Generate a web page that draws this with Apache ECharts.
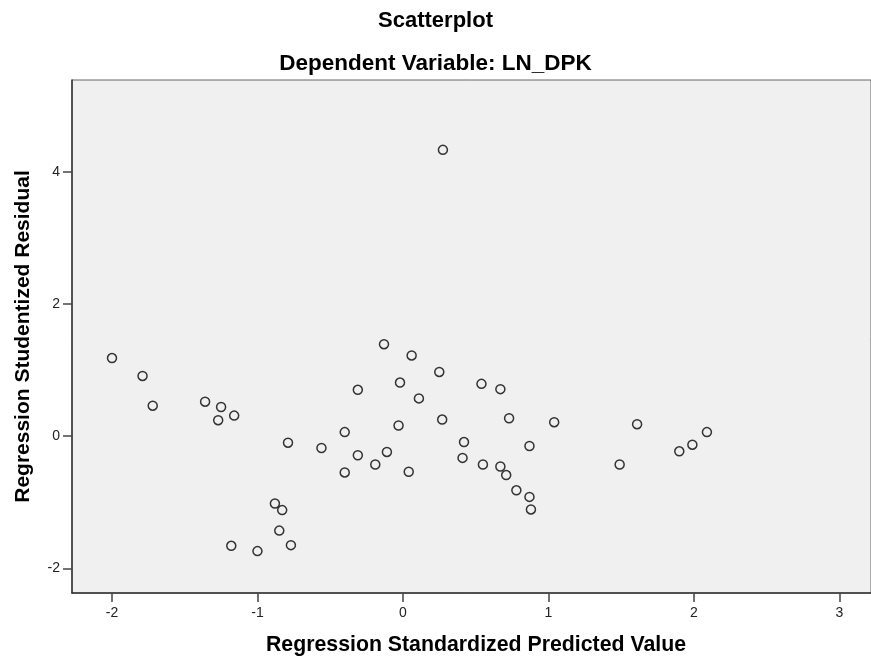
<!DOCTYPE html>
<html>
<head>
<meta charset="utf-8">
<script src="https://cdn.jsdelivr.net/npm/echarts@6/dist/echarts.min.js"></script>
<style>html,body{margin:0;padding:0;background:#fff}#c{width:871px;height:656px}</style>
</head>
<body>
<div id="c"></div>
<script>
const titleText = 'Scatterplot';
const subtitleText = 'Dependent Variable: LN_DPK';
const xName = 'Regression Standardized Predicted Value';
const yName = 'Regression Studentized Residual';
const xTicks = [-2, -1, 0, 1, 2, 3];
const yTicks = [-2, 0, 2, 4];
const predicted = [-2.00, -1.79, -1.72, -1.36, -1.25, -1.27, -1.16, -0.79, -0.56, -0.40, -0.40, -0.31, -0.31,
  -0.88, -0.83, -0.85, -0.77, -1.18, -1.00, -0.13, 0.06, 0.25, -0.02, 0.11, 0.54, 0.67, -0.03, 0.27, 0.73, 1.04,
  -0.11, -0.19, 0.04, 0.42, 0.41, 0.55, 0.67, 0.71, 0.78, 0.87, 0.88, 0.87, 1.61, 1.49, 1.90, 1.99, 2.09, 0.275];
const residual = [1.18, 0.91, 0.46, 0.52, 0.44, 0.24, 0.31, -0.10, -0.18, 0.06, -0.55, 0.70, -0.29,
  -1.02, -1.12, -1.43, -1.65, -1.66, -1.74, 1.39, 1.22, 0.97, 0.81, 0.57, 0.79, 0.71, 0.16, 0.25, 0.27, 0.21,
  -0.24, -0.43, -0.54, -0.09, -0.33, -0.43, -0.46, -0.59, -0.82, -0.92, -1.11, -0.15, 0.18, -0.43, -0.23, -0.13, 0.06, 4.33];

const pts = predicted.map((x, i) => [x, residual[i]]);
const font = 'Liberation Sans, Arial, sans-serif';
const chart = echarts.init(document.getElementById('c'), null, {renderer: 'canvas'});
chart.setOption({
  animation: false,
  backgroundColor: '#ffffff',
  title: [
    {text: titleText, left: 'center', top: 10, padding: 0, textStyle: {fontFamily: font, fontSize: 22, fontWeight: 'bold', color: '#000'}},
    {text: subtitleText, left: 'center', top: 52, padding: 0, textStyle: {fontFamily: font, fontSize: 22.5, fontWeight: 'bold', color: '#000'}}
  ],
  grid: {left: 72, top: 80, right: 0, bottom: 63, outerBoundsMode: 'none', containLabel: false,
    show: true, backgroundColor: '#f0f0f0', borderColor: '#666', borderWidth: 1},
  xAxis: {
    type: 'value', min: -2.275, max: 3.218,
    name: xName, nameLocation: 'middle', nameGap: 42,
    nameTextStyle: {fontFamily: font, fontSize: 21.3, fontWeight: 'bold', color: '#000', padding: [0, 0, 0, 9]},
    axisLine: {show: true, onZero: false, lineStyle: {color: '#333', width: 1.5}},
    axisTick: {show: true, inside: false, length: 9, customValues: xTicks, lineStyle: {color: '#444', width: 1.5}},
    axisLabel: {customValues: xTicks, fontFamily: font, fontSize: 14, color: '#222', margin: 13},
    splitLine: {show: false}
  },
  yAxis: {
    type: 'value', min: -2.374, max: 5.387,
    name: yName, nameLocation: 'middle', nameGap: 38, nameRotate: 90,
    nameTextStyle: {fontFamily: font, fontSize: 21, fontWeight: 'bold', color: '#000'},
    axisLine: {show: true, onZero: false, lineStyle: {color: '#333', width: 1.5}},
    axisTick: {show: true, inside: false, length: 9, customValues: yTicks, lineStyle: {color: '#444', width: 1.5}},
    axisLabel: {customValues: yTicks, fontFamily: font, fontSize: 14, color: '#222', margin: 12},
    splitLine: {show: false}
  },
  series: [{
    type: 'scatter', data: pts, symbol: 'circle', symbolSize: 9,
    itemStyle: {color: 'rgba(0,0,0,0)', borderColor: '#333', borderWidth: 1.5, opacity: 1}
  }]
});
</script>
</body>
</html>
